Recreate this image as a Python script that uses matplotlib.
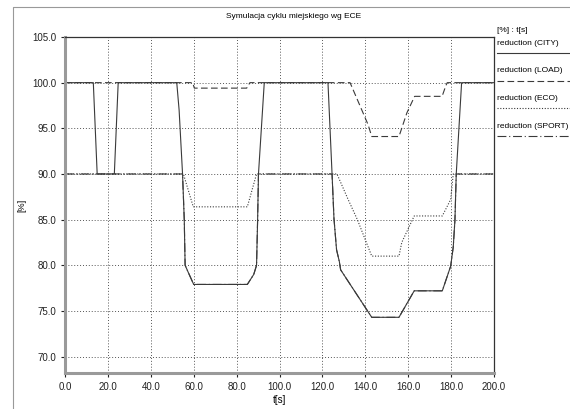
import matplotlib.pyplot as plt
from matplotlib.lines import Line2D

# dane
t_city = [0, 13.2, 15, 23, 24.8, 52.1, 53.2, 54.8, 55.6, 56, 57.5, 60, 85, 88, 89.3, 89.8, 90.2, 92.9,
          122.6, 124.5, 125.4, 126.6, 127.9, 128.5, 143, 155.7, 162.8, 175.9, 179.8, 181, 181.8, 182.4, 184.9, 200]
v_city = [100, 100, 90, 90, 100, 100, 97, 90, 85, 80, 79.2, 77.9, 77.9, 79, 80, 85, 90, 100,
          100, 90, 85.1, 81.7, 80.4, 79.5, 74.3, 74.3, 77.2, 77.2, 79.9, 82, 85, 90, 100, 100]

t_load = [0, 59.5, 60.3, 84.7, 86.2, 132.9, 141.3, 143, 155.7, 159.4, 163, 175.8, 177.6, 178.2, 200]
v_load = [100, 100, 99.4, 99.4, 100, 100, 95.4, 94.1, 94.1, 96.7, 98.5, 98.5, 99.7, 100, 100]

t_eco = [0, 55.2, 59.8, 85, 89.3, 126.8, 132, 136.3, 143, 155.7, 157, 162.8, 175.9, 179.8, 181, 200]
v_eco = [90, 90, 86.4, 86.4, 90, 90, 87.2, 85, 81, 81, 82.5, 85.4, 85.4, 87.2, 90, 90]

t_sport = [0, 54.8, 55.6, 56, 57.5, 60, 85, 88, 89.3, 89.8, 90.2, 124.5, 125.4, 126.6, 127.9, 128.5,
           143, 155.7, 162.8, 175.9, 179.8, 181, 181.8, 182.4, 200]
v_sport = [90, 90, 85, 80, 79.2, 77.9, 77.9, 79, 80, 85, 90, 90, 85.1, 81.7, 80.4, 79.5,
           74.3, 74.3, 77.2, 77.2, 79.9, 82, 85, 90, 90]

x_ticks = [0, 20, 40, 60, 80, 100, 120, 140, 160, 180, 200]
y_ticks = [70, 75, 80, 85, 90, 95, 100, 105]
names = ['reduction (CITY)', 'reduction (LOAD)', 'reduction (ECO)', 'reduction (SPORT)']

plt.rcParams['font.family'] = ['Liberation Sans', 'DejaVu Sans']
W, H = 570, 409
fig = plt.figure(figsize=(W / 100, H / 100), dpi=100)
ax = fig.add_axes([65 / W, 1 - 373 / H, (494 - 65) / W, (373 - 37) / H])

lc = '#3a3a3a'
styles = ['-', (0, (6, 3)), (0, (1, 1.5)), (0, (8, 2.5, 1, 2.5))]
series = [(t_city, v_city), (t_load, v_load), (t_eco, v_eco), (t_sport, v_sport)]

for (t, v), ls in zip(series, styles):
    ax.plot(t, v, color=lc, lw=0.8, linestyle=ls)

ax.set_xlim(0, 200)
ax.set_ylim(68.2, 105)
ax.set_xticks(x_ticks)
ax.set_yticks(y_ticks)
ax.set_xticklabels(['%.1f' % x for x in x_ticks])
ax.set_yticklabels(['%.1f' % y for y in y_ticks])
ax.tick_params(labelsize=7, colors='#222222', length=3, width=0.8)
ax.grid(True, color='#555555', linestyle=(0, (1, 2)), linewidth=0.7)

for s in ['left', 'bottom']:
    ax.spines[s].set_color('#9a9a9a')
    ax.spines[s].set_linewidth(2.2)
for s in ['top', 'right']:
    ax.spines[s].set_color('#333333')
    ax.spines[s].set_linewidth(0.9)

ax.set_xlabel('t[s]', fontsize=7, labelpad=2)
ax.set_ylabel('[%]', fontsize=6.5, labelpad=4)
fig.text(294 / W, 1 - 17 / H, 'Symulacja cyklu miejskiego wg ECE', ha='center', va='center', fontsize=6)

# legenda po prawej stronie
fig.text(497 / W, 1 - 30 / H, '[%] : t[s]', fontsize=6, va='center')
text_y = [43.5, 71, 98.5, 126]
line_y = [53.3, 81, 108.3, 135.7]
for name, ls, ty, ly in zip(names, styles, text_y, line_y):
    fig.text(497 / W, 1 - ty / H, name, fontsize=6, va='center')
    fig.add_artist(Line2D([497 / W, 1.0], [1 - ly / H, 1 - ly / H], color=lc, lw=0.8,
                          linestyle=ls, transform=fig.transFigure))

# ramka okna
fig.add_artist(Line2D([13 / W, 13 / W, 1.0], [0, 1 - 7 / H, 1 - 7 / H], color='#999999', lw=0.8,
                      transform=fig.transFigure))

fig.savefig('out.png', dpi=100)
